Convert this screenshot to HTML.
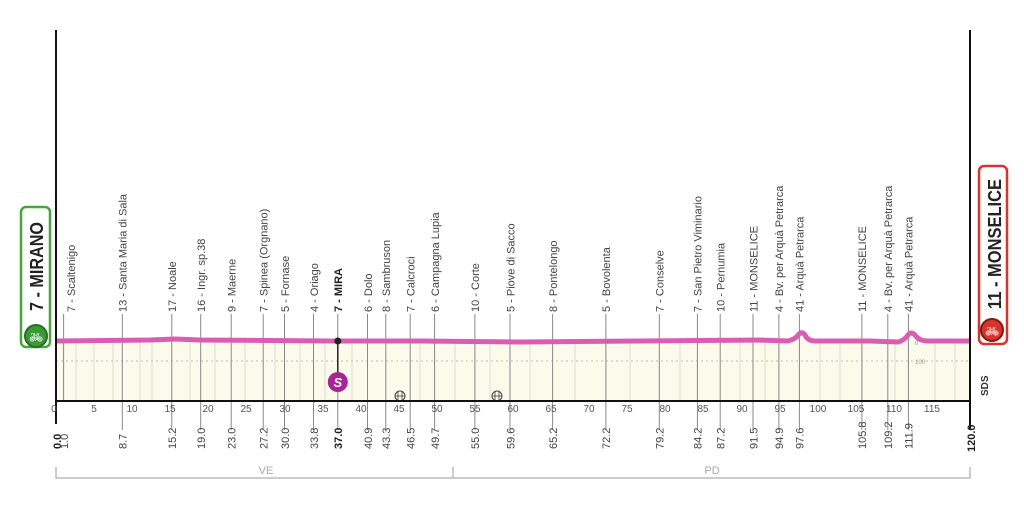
<!DOCTYPE html>
<html><head><meta charset="utf-8"><style>
html,body{margin:0;padding:0;background:#fff;}
svg{display:block;font-family:"Liberation Sans",sans-serif;}
.w{font-size:11px;fill:#444;}
.b{font-size:11px;fill:#444;}
.t{font-size:10px;fill:#555;text-anchor:middle;}
</style></head><body>
<svg width="1024" height="518" viewBox="0 0 1024 518" xmlns="http://www.w3.org/2000/svg">
<path d="M56,341 L150,340 L175,339 L200,340 L330,341 L420,341 L520,342 L640,341 L760,340 L788,341 Q796,339 799,334 Q802,331 805,335 Q808,341 815,341 L870,341 L898,342 Q905,340 908,335 Q911,331 915,335 Q919,341 928,341 L970,341 L970,401 L56,401 Z" fill="#fbfaeb"/>
<g stroke="#dcdcd0" stroke-width="1">
<line x1="76" y1="342" x2="76" y2="401"/><line x1="94" y1="342" x2="94" y2="401"/><line x1="113" y1="342" x2="113" y2="401"/><line x1="140" y1="342" x2="140" y2="401"/><line x1="152" y1="342" x2="152" y2="401"/><line x1="190" y1="342" x2="190" y2="401"/><line x1="215" y1="342" x2="215" y2="401"/><line x1="245" y1="342" x2="245" y2="401"/><line x1="275" y1="342" x2="275" y2="401"/><line x1="300" y1="342" x2="300" y2="401"/><line x1="325" y1="342" x2="325" y2="401"/><line x1="352" y1="342" x2="352" y2="401"/><line x1="420" y1="342" x2="420" y2="401"/><line x1="455" y1="342" x2="455" y2="401"/><line x1="490" y1="342" x2="490" y2="401"/><line x1="530" y1="342" x2="530" y2="401"/><line x1="575" y1="342" x2="575" y2="401"/><line x1="630" y1="342" x2="630" y2="401"/><line x1="680" y1="342" x2="680" y2="401"/><line x1="740" y1="342" x2="740" y2="401"/><line x1="765" y1="342" x2="765" y2="401"/><line x1="820" y1="342" x2="820" y2="401"/><line x1="840" y1="342" x2="840" y2="401"/><line x1="895" y1="342" x2="895" y2="401"/><line x1="935" y1="342" x2="935" y2="401"/><line x1="955" y1="342" x2="955" y2="401"/>
</g>
<line x1="56" y1="361" x2="970" y2="361" stroke="#bbb" stroke-width="1" stroke-dasharray="2,3"/>
<text x="915" y="364" font-size="6" fill="#999">100</text>
<text x="915" y="345" font-size="6" fill="#999">0</text>
<g stroke="#888" stroke-width="1">
<line x1="63.6" y1="314" x2="63.6" y2="401"/><line x1="122.3" y1="314" x2="122.3" y2="430"/><line x1="171.8" y1="314" x2="171.8" y2="430"/><line x1="200.7" y1="314" x2="200.7" y2="430"/><line x1="231.2" y1="314" x2="231.2" y2="430"/><line x1="263.2" y1="314" x2="263.2" y2="430"/><line x1="284.5" y1="314" x2="284.5" y2="430"/><line x1="313.5" y1="314" x2="313.5" y2="430"/><line x1="337.8" y1="314" x2="337.8" y2="341"/><line x1="337.8" y1="392" x2="337.8" y2="430"/><line x1="367.5" y1="314" x2="367.5" y2="430"/><line x1="385.8" y1="314" x2="385.8" y2="430"/><line x1="410.2" y1="314" x2="410.2" y2="430"/><line x1="434.6" y1="314" x2="434.6" y2="430"/><line x1="474.9" y1="314" x2="474.9" y2="430"/><line x1="510" y1="314" x2="510" y2="430"/><line x1="552.6" y1="314" x2="552.6" y2="430"/><line x1="605.9" y1="314" x2="605.9" y2="430"/><line x1="659.3" y1="314" x2="659.3" y2="430"/><line x1="697.4" y1="314" x2="697.4" y2="430"/><line x1="720.2" y1="314" x2="720.2" y2="430"/><line x1="753" y1="314" x2="753" y2="430"/><line x1="778.9" y1="314" x2="778.9" y2="430"/><line x1="799.4" y1="314" x2="799.4" y2="430"/><line x1="861.9" y1="314" x2="861.9" y2="430"/><line x1="887.8" y1="314" x2="887.8" y2="430"/><line x1="908.4" y1="314" x2="908.4" y2="430"/>
</g>
<line x1="337.8" y1="341" x2="337.8" y2="375" stroke="#222" stroke-width="1.5"/>
<path d="M56,341 L150,340 L175,339 L200,340 L330,341 L420,341 L520,342 L640,341 L760,340 L788,341 Q796,339 799,334 Q802,331 805,335 Q808,341 815,341 L870,341 L898,342 Q905,340 908,335 Q911,331 915,335 Q919,341 928,341 L970,341" fill="none" stroke="#dc5cb4" stroke-width="5" stroke-linejoin="round"/>
<circle cx="337.8" cy="341" r="3.5" fill="#222"/>
<circle cx="337.8" cy="382" r="10" fill="#a82494"/>
<text x="337.8" y="387" font-size="13" font-weight="bold" font-style="italic" fill="#fff" text-anchor="middle">S</text>
<g fill="none" stroke="#444" stroke-width="1"><circle cx="400" cy="396" r="5"/><circle cx="497" cy="396" r="5"/></g>
<g stroke="#444" stroke-width="0.8"><line x1="398" y1="392" x2="398" y2="400"/><line x1="402" y1="392" x2="402" y2="400"/><line x1="395" y1="396" x2="405" y2="396"/><line x1="495" y1="392" x2="495" y2="400"/><line x1="499" y1="392" x2="499" y2="400"/><line x1="492" y1="396" x2="502" y2="396"/></g>
<line x1="56" y1="30" x2="56" y2="424" stroke="#111" stroke-width="2"/>
<line x1="970" y1="30" x2="970" y2="430" stroke="#111" stroke-width="2"/>
<line x1="56" y1="401" x2="970" y2="401" stroke="#111" stroke-width="2"/>
<g class="t">
<text x="54" y="412">0</text><text x="94" y="412">5</text><text x="132" y="412">10</text><text x="170" y="412">15</text><text x="208" y="412">20</text><text x="246" y="412">25</text><text x="285" y="412">30</text><text x="323" y="412">35</text><text x="361" y="412">40</text><text x="399" y="412">45</text><text x="437" y="412">50</text><text x="475" y="412">55</text><text x="513" y="412">60</text><text x="551" y="412">65</text><text x="589" y="412">70</text><text x="627" y="412">75</text><text x="665" y="412">80</text><text x="703" y="412">85</text><text x="742" y="412">90</text><text x="780" y="412">95</text><text x="818" y="412">100</text><text x="856" y="412">105</text><text x="894" y="412">110</text><text x="932" y="412">115</text>
</g>
<g class="w">
<text transform="translate(75,312) rotate(-90)">7 - Scaltenigo</text>
<text transform="translate(126.5,312) rotate(-90)">13 - Santa Maria di Sala</text>
<text transform="translate(176,312) rotate(-90)">17 - Noale</text>
<text transform="translate(205,312) rotate(-90)">16 - Ingr. sp.38</text>
<text transform="translate(235.5,312) rotate(-90)">9 - Maerne</text>
<text transform="translate(267.5,312) rotate(-90)">7 - Spinea (Orgnano)</text>
<text transform="translate(288.8,312) rotate(-90)">5 - Fornase</text>
<text transform="translate(317.8,312) rotate(-90)">4 - Oriago</text>
<text transform="translate(342,312) rotate(-90)" font-weight="bold" fill="#222">7 - MIRA</text>
<text transform="translate(371.8,312) rotate(-90)">6 - Dolo</text>
<text transform="translate(390,312) rotate(-90)">8 - Sambruson</text>
<text transform="translate(414.5,312) rotate(-90)">7 - Calcroci</text>
<text transform="translate(438.9,312) rotate(-90)">6 - Campagna Lupia</text>
<text transform="translate(479.2,312) rotate(-90)">10 - Corte</text>
<text transform="translate(514.3,312) rotate(-90)">5 - Piove di Sacco</text>
<text transform="translate(556.9,312) rotate(-90)">8 - Pontelongo</text>
<text transform="translate(610.2,312) rotate(-90)">5 - Bovolenta</text>
<text transform="translate(663.6,312) rotate(-90)">7 - Conselve</text>
<text transform="translate(701.7,312) rotate(-90)">7 - San Pietro Viminario</text>
<text transform="translate(724.5,312) rotate(-90)">10 - Pernumia</text>
<text transform="translate(757.3,312) rotate(-90)">11 - MONSELICE</text>
<text transform="translate(783.2,312) rotate(-90)">4 - Bv. per Arquà  Petrarca</text>
<text transform="translate(803.7,312) rotate(-90)">41 - Arquà Petrarca</text>
<text transform="translate(866.2,312) rotate(-90)">11 - MONSELICE</text>
<text transform="translate(892.1,312) rotate(-90)">4 - Bv. per Arquà  Petrarca</text>
<text transform="translate(912.7,312) rotate(-90)">41 - Arquà Petrarca</text>
</g>
<g class="b">
<text transform="translate(61,449) rotate(-90)" font-weight="bold" fill="#222">0.0</text>
<text transform="translate(68,449) rotate(-90)">1.0</text>
<text transform="translate(126.5,449) rotate(-90)">8.7</text>
<text transform="translate(176,449) rotate(-90)">15.2</text>
<text transform="translate(205,449) rotate(-90)">19.0</text>
<text transform="translate(235.5,449) rotate(-90)">23.0</text>
<text transform="translate(267.5,449) rotate(-90)">27.2</text>
<text transform="translate(288.8,449) rotate(-90)">30.0</text>
<text transform="translate(317.8,449) rotate(-90)">33.8</text>
<text transform="translate(342,449) rotate(-90)" font-weight="bold" fill="#222">37.0</text>
<text transform="translate(371.8,449) rotate(-90)">40.9</text>
<text transform="translate(390,449) rotate(-90)">43.3</text>
<text transform="translate(414.5,449) rotate(-90)">46.5</text>
<text transform="translate(438.9,449) rotate(-90)">49.7</text>
<text transform="translate(479.2,449) rotate(-90)">55.0</text>
<text transform="translate(514.3,449) rotate(-90)">59.6</text>
<text transform="translate(556.9,449) rotate(-90)">65.2</text>
<text transform="translate(610.2,449) rotate(-90)">72.2</text>
<text transform="translate(663.6,449) rotate(-90)">79.2</text>
<text transform="translate(701.7,449) rotate(-90)">84.2</text>
<text transform="translate(724.5,449) rotate(-90)">87.2</text>
<text transform="translate(757.3,449) rotate(-90)">91.5</text>
<text transform="translate(783.2,449) rotate(-90)">94.9</text>
<text transform="translate(803.7,449) rotate(-90)">97.6</text>
<text transform="translate(866.2,449) rotate(-90)">105.8</text>
<text transform="translate(892.1,449) rotate(-90)">109.2</text>
<text transform="translate(912.7,449) rotate(-90)">111.9</text>
<text transform="translate(975,452) rotate(-90)" font-weight="bold" fill="#222">120.0</text>
</g>
<path d="M56,467 V478 H970 V467 M453,467 V478" fill="none" stroke="#bbb" stroke-width="1.5"/>
<text x="266" y="474" font-size="11" fill="#aaa" text-anchor="middle">VE</text>
<text x="712" y="474" font-size="11" fill="#aaa" text-anchor="middle">PD</text>
<rect x="21" y="207" width="29" height="140" rx="5" fill="#fff" stroke="#4aa43e" stroke-width="2.5"/>
<text transform="translate(43,311) rotate(-90)" font-size="18" font-weight="bold" fill="#222" textLength="89" lengthAdjust="spacingAndGlyphs">7 - MIRANO</text>
<circle cx="36" cy="336" r="11" fill="#3c9a36" stroke="#2a6a26" stroke-width="2"/>
<text x="36" y="341" font-size="11" fill="#fff" text-anchor="middle">🚲︎</text>
<rect x="979" y="166" width="28" height="178" rx="5" fill="#fff" stroke="#d8332c" stroke-width="2.5"/>
<text transform="translate(1001,309) rotate(-90)" font-size="18" font-weight="bold" fill="#222" textLength="130" lengthAdjust="spacingAndGlyphs">11 - MONSELICE</text>
<circle cx="992" cy="330" r="11" fill="#d8332c" stroke="#7a1a16" stroke-width="2"/>
<text x="992" y="335" font-size="11" fill="#fff" text-anchor="middle">🚲︎</text>
<text transform="translate(988,396) rotate(-90)" font-size="10" font-weight="bold" fill="#333">SDS</text>
</svg>
</body></html>
